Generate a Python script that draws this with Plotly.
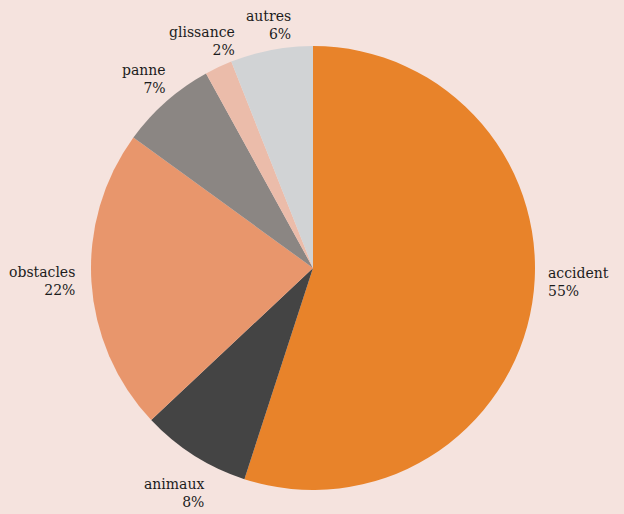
import plotly.graph_objects as go

# Causes and shares (percent)
categories = ["accident", "animaux", "obstacles", "panne", "glissance", "autres"]
shares = [55, 8, 22, 7, 2, 6]

colors = ["#E8832A", "#444444", "#E8966C", "#8B8683", "#EBBCAA", "#D1D3D5"]

W, H = 624, 514
BG = "#F5E3DE"
FONT = "DejaVu Serif"
TXT = "#1C1C1C"

# Pie circle: centre (313, 268) px, radius 222 px
cx, cy, r = 313, 268, 222

fig = go.Figure(
    go.Pie(
        labels=categories,
        values=shares,
        sort=False,
        direction="clockwise",
        rotation=0,
        marker=dict(colors=colors, line=dict(width=0)),
        textinfo="none",
        hoverinfo="label+percent",
        showlegend=False,
        domain=dict(
            x=[(cx - r) / W, (cx + r) / W],
            y=[1 - (cy + r) / H, 1 - (cy - r) / H],
        ),
    )
)

# Label placement (px): anchor x, block centre y, horizontal anchor
label_pos = {
    "accident": (547, 282, "left"),
    "animaux": (205, 493, "right"),
    "obstacles": (76, 281, "right"),
    "panne": (167, 79, "right"),
    "glissance": (236, 41, "right"),
    "autres": (292, 25, "right"),
}

annotations = []
for name, val in zip(categories, shares):
    x, y, anchor = label_pos[name]
    annotations.append(
        dict(
            x=x / W, y=1 - y / H, xref="paper", yref="paper",
            text=f"{name}<br>{val}%", showarrow=False,
            xanchor=anchor, yanchor="middle", align=anchor,
            borderpad=0,
            font=dict(family=FONT, size=14, color=TXT),
        )
    )

fig.update_layout(
    width=W, height=H,
    margin=dict(l=0, r=0, t=0, b=0),
    paper_bgcolor=BG, plot_bgcolor=BG,
    annotations=annotations,
)

fig.write_html("out.html")
